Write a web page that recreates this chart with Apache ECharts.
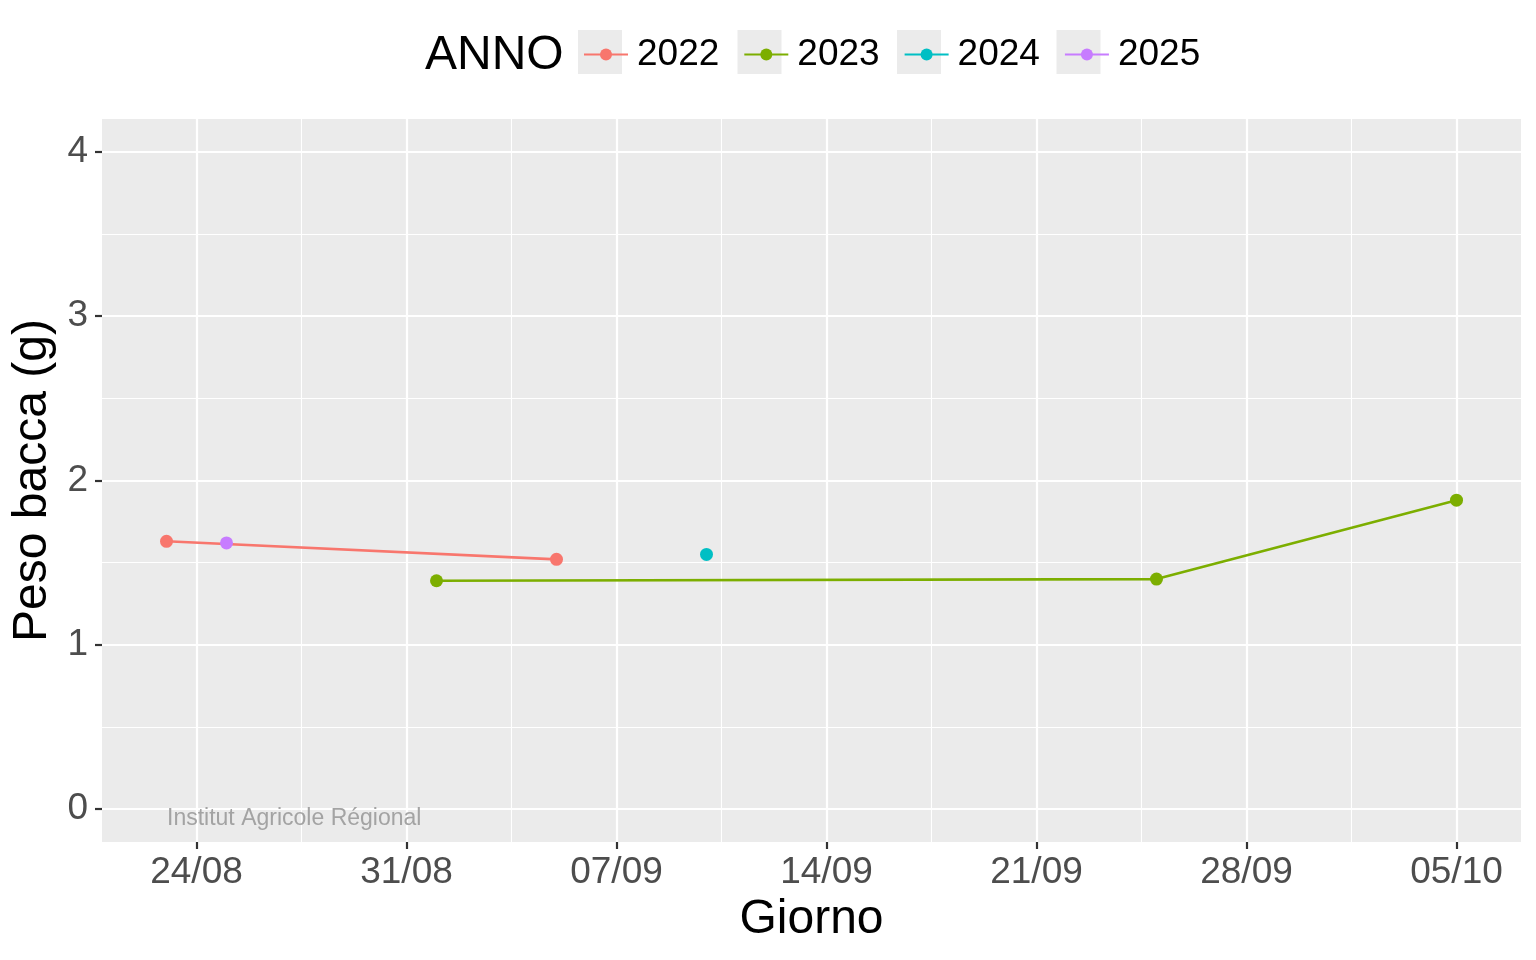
<!DOCTYPE html>
<html>
<head>
<meta charset="utf-8">
<script src="https://cdn.jsdelivr.net/npm/echarts@6/dist/echarts.min.js"></script>
<style>
html,body{margin:0;padding:0;background:#fff;}
#chart{width:1536px;height:960px;}
</style>
</head>
<body>
<div id="chart"></div>
<script>
// ---- data ----
const years = ['2022', '2023', '2024', '2025'];
const colors = ['#F8766D', '#7CAE00', '#00BFC4', '#C77CFF'];
const dates2022 = ['23/08', '05/09'];
const values2022 = [1.63, 1.52];
const dates2023 = ['01/09', '25/09', '05/10'];
const values2023 = [1.39, 1.40, 1.88];
const dates2024 = ['10/09'];
const values2024 = [1.55];
const dates2025 = ['25/08'];
const values2025 = [1.62];
const xTickLabels = ['24/08', '31/08', '07/09', '14/09', '21/09', '28/09', '05/10'];
const yTicks = [0, 1, 2, 3, 4];
const yMinorTicks = [0.5, 1.5, 2.5, 3.5];

// ---- helpers ----
const REF = Date.UTC(2000, 7, 24); // 24/08 reference
function dayNum(s) {
  const [d, m] = s.split('/').map(Number);
  return (Date.UTC(2000, m - 1, d) - REF) / 86400000;
}
function dayLabel(v) {
  const dt = new Date(REF + Math.round(v) * 86400000);
  const d = String(dt.getUTCDate()).padStart(2, '0');
  const m = String(dt.getUTCMonth() + 1).padStart(2, '0');
  return d + '/' + m;
}
const allDates = [].concat(dates2022, dates2023, dates2024, dates2025).map(dayNum);
const dMin = Math.min(...allDates), dMax = Math.max(...allDates);
const pad = (dMax - dMin) * 0.05;
const xMin = dMin - pad, xMax = dMax + pad;
const xMajor = xTickLabels.map(dayNum);
const xMinor = xMajor.map(v => v + 3.5).filter(v => v > xMin && v < xMax);

const seriesDates = [dates2022, dates2023, dates2024, dates2025];
const seriesVals = [values2022, values2023, values2024, values2025];

const FONT = 'Liberation Sans';
const chart = echarts.init(document.getElementById('chart'));

const series = years.map((y, i) => ({
  name: y,
  type: 'line',
  xAxisIndex: 0,
  yAxisIndex: 0,
  data: seriesDates[i].map((d, k) => [dayNum(d), seriesVals[i][k]]),
  symbol: 'circle',
  symbolSize: 13,
  showSymbol: true,
  itemStyle: { color: colors[i] },
  lineStyle: { color: colors[i], width: 2.6 },
  emphasis: { disabled: true },
  animation: false,
  z: 5
}));

const legendBoxes = years.map((y, i) => ({
  type: 'rect',
  shape: { x: 578 + i * 159.5, y: 30, width: 44, height: 44 },
  style: { fill: '#EBEBEB' },
  z: 0
}));

chart.setOption({
  animation: false,
  backgroundColor: '#FFFFFF',
  textStyle: { fontFamily: FONT },
  grid: {
    left: 102, right: 15, top: 119, bottom: 118,
    containLabel: false,
    show: true, backgroundColor: '#EBEBEB', borderWidth: 0
  },
  legend: {
    data: years,
    left: 578,
    top: 31,
    itemWidth: 44,
    itemHeight: 15,
    itemGap: 24,
    padding: 5,
    textStyle: { fontFamily: FONT, fontSize: 37, color: '#000', padding: [0, 0, 0, 4] },
    selectedMode: false,
    z: 5
  },
  graphic: legendBoxes.concat([
    {
      type: 'text', left: 425, top: 32, z: 5,
      style: { text: 'ANNO', font: '48px "Liberation Sans"', fill: '#000' }
    },
    {
      type: 'text', left: 167, top: 807, z: 3,
      style: { text: 'Institut Agricole Régional', font: '23px "Liberation Sans"', fill: '#A3A3A3' }
    }
  ]),
  xAxis: [
    {
      type: 'value', min: xMin, max: xMax,
      name: 'Giorno', nameLocation: 'middle', nameGap: 51,
      nameTextStyle: { fontFamily: FONT, fontSize: 48, color: '#000' },
      axisLine: { show: false, onZero: false },
      axisTick: { show: true, length: 7, customValues: xMajor, lineStyle: { color: '#333333', width: 2.2 } },
      axisLabel: { show: true, customValues: xMajor, margin: 12, fontFamily: FONT, fontSize: 37, color: '#4D4D4D', formatter: v => dayLabel(v) },
      splitLine: { show: true, lineStyle: { color: '#FFFFFF', width: 2.2 } }
    },
    {
      type: 'value', min: xMin, max: xMax, position: 'bottom',
      axisLine: { show: false, onZero: false },
      axisTick: { show: false, customValues: xMinor },
      axisLabel: { show: false, customValues: xMinor },
      splitLine: { show: true, lineStyle: { color: '#FFFFFF', width: 1.1 } }
    }
  ],
  yAxis: [
    {
      type: 'value', min: -0.2, max: 4.2,
      name: 'Peso bacca (g)', nameLocation: 'middle', nameGap: 45, nameRotate: 90,
      nameTextStyle: { fontFamily: FONT, fontSize: 48, color: '#000' },
      axisLine: { show: false, onZero: false },
      axisTick: { show: true, length: 7, customValues: yTicks, lineStyle: { color: '#333333', width: 2.2 } },
      axisLabel: { show: true, customValues: yTicks, margin: 14, fontFamily: FONT, fontSize: 37, color: '#4D4D4D' },
      splitLine: { show: true, lineStyle: { color: '#FFFFFF', width: 2.2 } }
    },
    {
      type: 'value', min: -0.2, max: 4.2, position: 'left',
      axisLine: { show: false, onZero: false },
      axisTick: { show: false, customValues: yMinorTicks },
      axisLabel: { show: false, customValues: yMinorTicks },
      splitLine: { show: true, lineStyle: { color: '#FFFFFF', width: 1.1 } }
    }
  ],
  series: series
});
</script>
</body>
</html>
